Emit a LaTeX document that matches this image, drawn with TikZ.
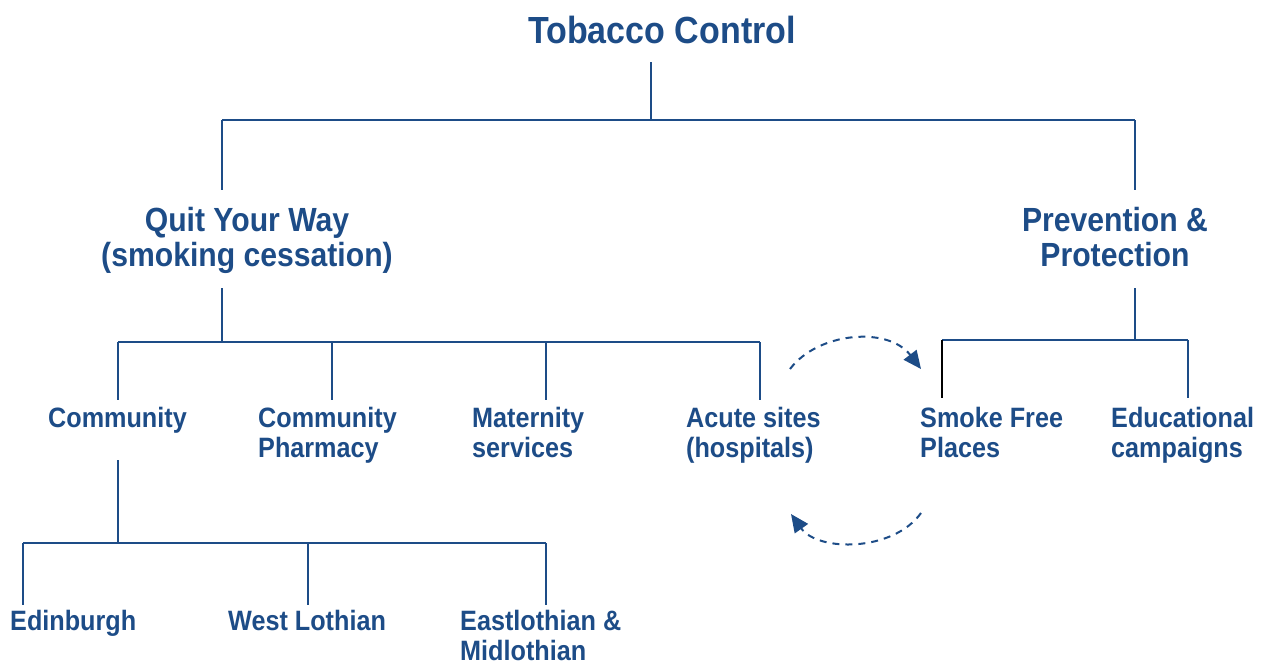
\documentclass[tikz,border=0pt]{standalone}
\usepackage{fontspec}
\setmainfont{Liberation Sans}[FakeStretch=0.9]
\usetikzlibrary{arrows.meta}
\definecolor{tcblue}{HTML}{1D4C87}
\tikzset{
  lbl/.style={inner sep=0pt, text=tcblue, font=\bfseries\fontsize{28}{30}\selectfont, align=left, anchor=base west},
  head/.style={inner sep=0pt, text=tcblue, font=\bfseries\fontsize{33.5}{35}\selectfont, align=center, anchor=base},
  title/.style={inner sep=0pt, text=tcblue, font=\bfseries\fontsize{37.8}{40}\selectfont, anchor=base},
  conn/.style={draw=tcblue, line width=2pt},
  loop/.style={draw=tcblue, line width=2pt, dash pattern=on 7pt off 6pt, -{Triangle[length=18pt,width=16pt]}},
}
\begin{document}
\begin{tikzpicture}[x=1pt,y=-1pt]
\useasboundingbox (0,0) rectangle (1272,664);
% nodes (base anchor = baseline of the last line)
\node[title] (tc) at (662,43) {Tobacco Control};
\node[head] (qyw) at (247,266) {Quit Your Way\\(smoking cessation)};
\node[head] (pp) at (1115,266) {Prevention \&\\Protection};
\node[lbl] (com) at (48,427) {Community};
\node[lbl] (cph) at (258,457) {Community\\Pharmacy};
\node[lbl] (mat) at (472,457) {Maternity\\services};
\node[lbl] (acu) at (686,457) {Acute sites\\(hospitals)};
\node[lbl] (sfp) at (920,457) {Smoke Free\\Places};
\node[lbl] (edu) at (1111,457) {Educational\\campaigns};
\node[lbl] (edi) at (10,630) {Edinburgh};
\node[lbl] (wl) at (228,630) {West Lothian};
\node[lbl] (elm) at (460,660) {Eastlothian \&\\Midlothian};
% junction coordinates
\coordinate (t0) at (651,62);
\coordinate (t1) at (651,120);
\coordinate (tL) at (222,120);
\coordinate (tR) at (1135,120);
\coordinate (qTop) at (222,190);
\coordinate (pTop) at (1135,190);
\coordinate (q0) at (222,288);
\coordinate (q1) at (222,342);
\coordinate (qa) at (118,342);
\coordinate (qb) at (332,342);
\coordinate (qc) at (546,342);
\coordinate (qd) at (760,342);
\coordinate (qa2) at (118,400);
\coordinate (qb2) at (332,400);
\coordinate (qc2) at (546,400);
\coordinate (qd2) at (760,400);
\coordinate (p0) at (1135,288);
\coordinate (p1) at (1135,340);
\coordinate (pa) at (942,340);
\coordinate (pb) at (1188,340);
\coordinate (pa2) at (942,398);
\coordinate (pb2) at (1188,398);
\coordinate (c0) at (118,460);
\coordinate (c1) at (118,543);
\coordinate (ca) at (23,543);
\coordinate (cb) at (308,543);
\coordinate (cc) at (546,543);
\coordinate (ca2) at (23,605);
\coordinate (cb2) at (308,605);
\coordinate (cc2) at (546,605);
% connectors
\draw[conn] (t0) -- (t1);
\draw[conn] (tL) -- (tR);
\draw[conn] (tL) -- (qTop);
\draw[conn] (tR) -- (pTop);
\draw[conn] (q0) -- (q1);
\draw[conn] (qa) -- (qd);
\draw[conn] (qa) -- (qa2);
\draw[conn] (qb) -- (qb2);
\draw[conn] (qc) -- (qc2);
\draw[conn] (qd) -- (qd2);
\draw[conn] (p0) -- (p1);
\draw[conn] (pa) -- (pb);
\draw[line width=2pt, black] (pa) -- (pa2);
\draw[conn] (pb) -- (pb2);
\draw[conn] (c0) -- (c1);
\draw[conn] (ca) -- (cc);
\draw[conn] (ca) -- (ca2);
\draw[conn] (cb) -- (cb2);
\draw[conn] (cc) -- (cc2);
% dashed loop arrows
\coordinate (a1s) at (790,369);
\coordinate (a1e) at (921,369);
\coordinate (a2s) at (921,513);
\coordinate (a2e) at (791,514);
\draw[loop] (a1s) .. controls (818,332) and (888,326) .. (a1e);
\draw[loop] (a2s) .. controls (893,552) and (818,552) .. (a2e);
\end{tikzpicture}
\end{document}
